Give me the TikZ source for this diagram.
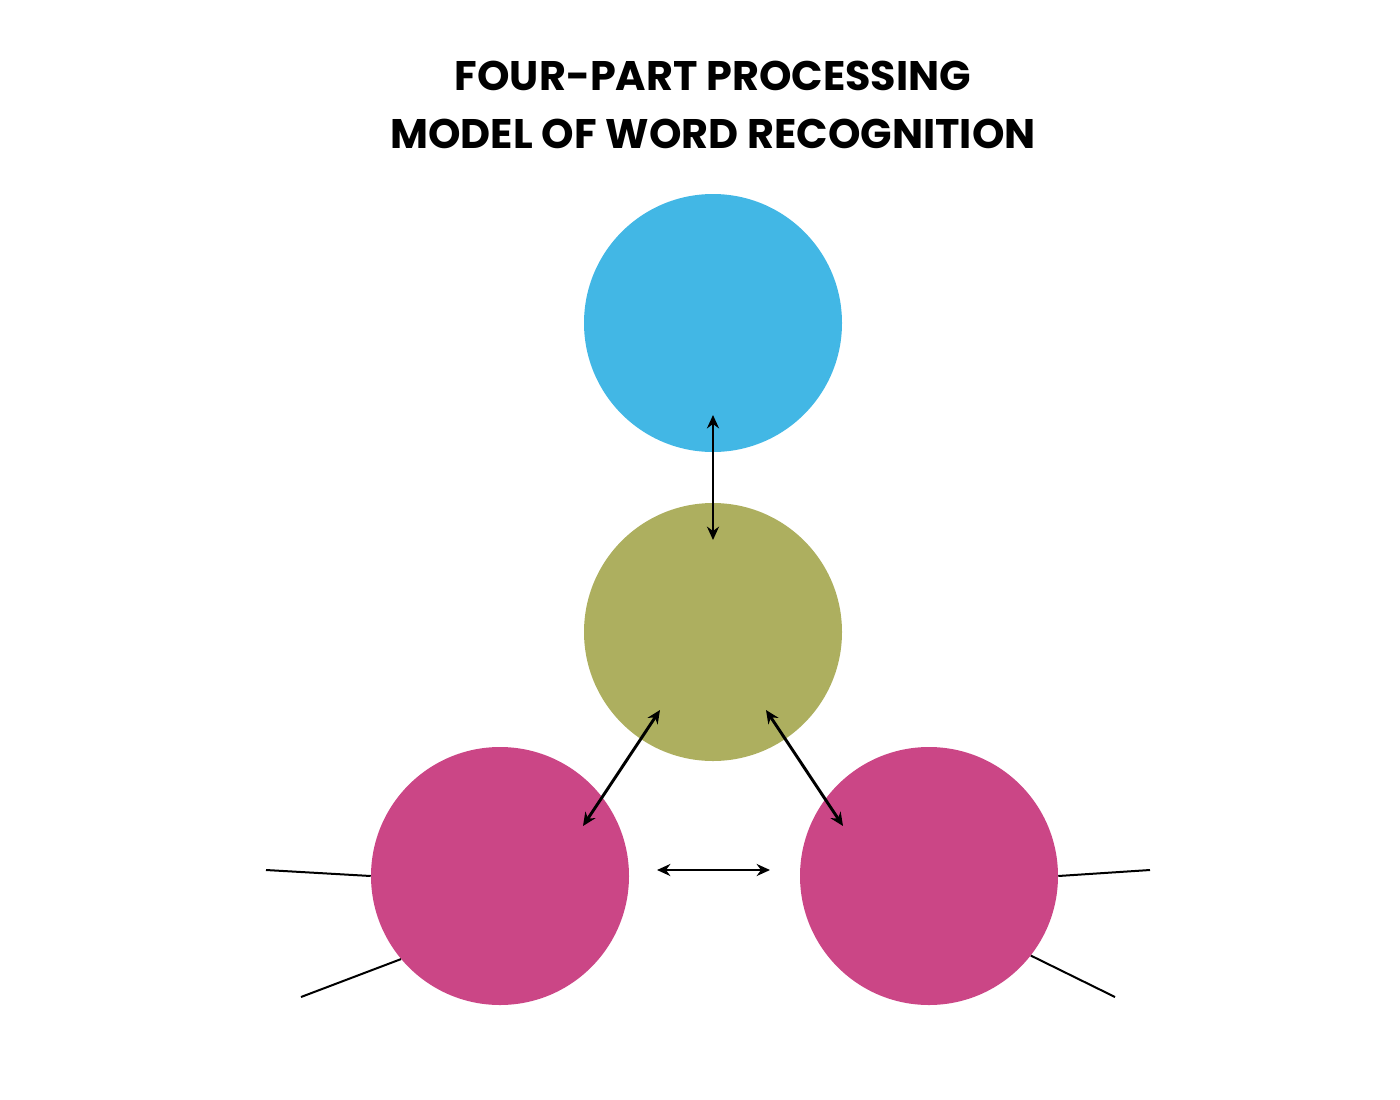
\documentclass[tikz,border=0pt]{standalone}
\usepackage{fontspec}
\setmainfont{Poppins}
\usetikzlibrary{arrows.meta}
\definecolor{topblue}{HTML}{42B7E5}
\definecolor{midolive}{HTML}{ADAF5F}
\definecolor{lowpink}{HTML}{CB4686}
\tikzset{
  blob/.style={circle,minimum size=193.5pt,inner sep=0pt},
  link/.style={line width=2.2pt,{Stealth[length=10pt,width=9pt]}-{Stealth[length=10pt,width=9pt]}},
  stub/.style={line width=1.5pt},
}
\begin{document}
\begin{tikzpicture}[x=0.75pt,y=0.75pt,yscale=-1,xscale=1]
    \useasboundingbox (0,0) rectangle (1400,1100);
    % Title
    \node (title) at (713,105) [align=center,font=\fontsize{31}{43}\selectfont\bfseries] {FOUR-PART PROCESSING\\MODEL OF WORD RECOGNITION};
    % Circles
    \node[blob,fill=topblue] (orth) at (713,323) {};
    \node[blob,fill=midolive] (mean) at (713,632) {};
    \node[blob,fill=lowpink] (phonl) at (500,876) {};
    \node[blob,fill=lowpink] (phonr) at (929,876) {};
    % Arrow ends
    \coordinate (a1) at (713,415);
    \coordinate (a2) at (713,540);
    \coordinate (b1) at (660,710);
    \coordinate (b2) at (583,826);
    \coordinate (c1) at (766,710);
    \coordinate (c2) at (843,826);
    \coordinate (d1) at (657,870);
    \coordinate (d2) at (770,870);
    \draw[link] (a1) -- (a2);
    \draw[link] (b1) -- (b2);
    \draw[link] (c1) -- (c2);
    \draw[link] (d1) -- (d2);
    % Stubs
    \coordinate (l1) at (266,870);
    \coordinate (l2) at (301,997);
    \coordinate (r1) at (1150,870);
    \coordinate (r2) at (1115,997);
    \draw[stub] (l1) -- (phonl.180);
    \draw[stub] (l2) -- (phonl.220);
    \draw[stub] (r1) -- (phonr.0);
    \draw[stub] (r2) -- (phonr.-38);
\end{tikzpicture}
\end{document}
